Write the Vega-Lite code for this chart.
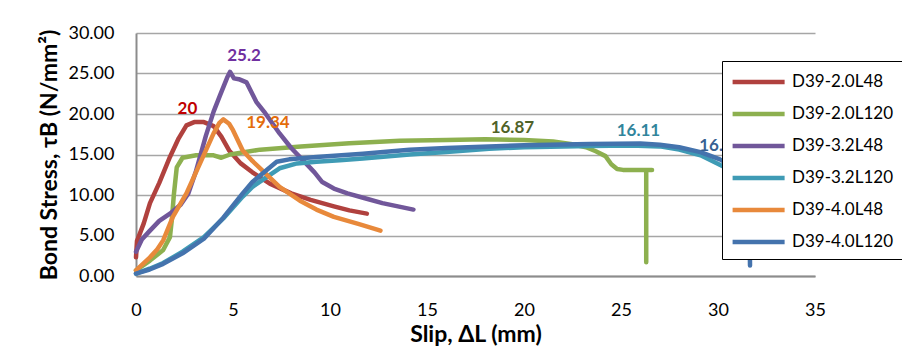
{
  "$schema": "https://vega.github.io/schema/vega-lite/v6.json",
  "width": 679,
  "height": 243,
  "autosize": "none",
  "padding": {"left": 136, "top": 33, "right": 87, "bottom": 73},
  "background": "white",
  "config": {"view": {"stroke": null}, "font": "Lato"},
  "datasets": {
    "curves": [
      {"s": "D39-2.0L48", "i": 1, "x": 0, "y": 2.3},
      {"s": "D39-2.0L48", "i": 2, "x": 0.05, "y": 4.3},
      {"s": "D39-2.0L48", "i": 3, "x": 0.4, "y": 6.5},
      {"s": "D39-2.0L48", "i": 4, "x": 0.72, "y": 9.0},
      {"s": "D39-2.0L48", "i": 5, "x": 1.2, "y": 11.5},
      {"s": "D39-2.0L48", "i": 6, "x": 1.75, "y": 14.7},
      {"s": "D39-2.0L48", "i": 7, "x": 2.2, "y": 17.0},
      {"s": "D39-2.0L48", "i": 8, "x": 2.6, "y": 18.6},
      {"s": "D39-2.0L48", "i": 9, "x": 3.0, "y": 19.0},
      {"s": "D39-2.0L48", "i": 10, "x": 3.5, "y": 19.0},
      {"s": "D39-2.0L48", "i": 11, "x": 4.0, "y": 18.5},
      {"s": "D39-2.0L48", "i": 12, "x": 4.4, "y": 17.2},
      {"s": "D39-2.0L48", "i": 13, "x": 4.8, "y": 15.5},
      {"s": "D39-2.0L48", "i": 14, "x": 5.4, "y": 13.9},
      {"s": "D39-2.0L48", "i": 15, "x": 6.0, "y": 12.8},
      {"s": "D39-2.0L48", "i": 16, "x": 6.9, "y": 11.4},
      {"s": "D39-2.0L48", "i": 17, "x": 8.0, "y": 10.2},
      {"s": "D39-2.0L48", "i": 18, "x": 9.0, "y": 9.4},
      {"s": "D39-2.0L48", "i": 19, "x": 10.2, "y": 8.6},
      {"s": "D39-2.0L48", "i": 20, "x": 11.0, "y": 8.1},
      {"s": "D39-2.0L48", "i": 21, "x": 11.9, "y": 7.7},

      {"s": "D39-2.0L120", "i": 1, "x": 0, "y": 0.7},
      {"s": "D39-2.0L120", "i": 2, "x": 0.72, "y": 1.9},
      {"s": "D39-2.0L120", "i": 3, "x": 1.4, "y": 3.2},
      {"s": "D39-2.0L120", "i": 4, "x": 1.75, "y": 4.8},
      {"s": "D39-2.0L120", "i": 5, "x": 1.85, "y": 7.0},
      {"s": "D39-2.0L120", "i": 6, "x": 1.95, "y": 10.0},
      {"s": "D39-2.0L120", "i": 7, "x": 2.1, "y": 13.4},
      {"s": "D39-2.0L120", "i": 8, "x": 2.4, "y": 14.6},
      {"s": "D39-2.0L120", "i": 9, "x": 3.1, "y": 14.9},
      {"s": "D39-2.0L120", "i": 10, "x": 4.0, "y": 14.9},
      {"s": "D39-2.0L120", "i": 11, "x": 4.4, "y": 14.6},
      {"s": "D39-2.0L120", "i": 12, "x": 4.85, "y": 15.0},
      {"s": "D39-2.0L120", "i": 13, "x": 6.4, "y": 15.6},
      {"s": "D39-2.0L120", "i": 14, "x": 8.5, "y": 16.0},
      {"s": "D39-2.0L120", "i": 15, "x": 11.0, "y": 16.4},
      {"s": "D39-2.0L120", "i": 16, "x": 13.6, "y": 16.7},
      {"s": "D39-2.0L120", "i": 17, "x": 16.0, "y": 16.8},
      {"s": "D39-2.0L120", "i": 18, "x": 18.0, "y": 16.87},
      {"s": "D39-2.0L120", "i": 19, "x": 20.0, "y": 16.8},
      {"s": "D39-2.0L120", "i": 20, "x": 21.5, "y": 16.6},
      {"s": "D39-2.0L120", "i": 21, "x": 22.4, "y": 16.3},
      {"s": "D39-2.0L120", "i": 22, "x": 23.2, "y": 15.9},
      {"s": "D39-2.0L120", "i": 23, "x": 23.7, "y": 15.4},
      {"s": "D39-2.0L120", "i": 24, "x": 24.2, "y": 14.8},
      {"s": "D39-2.0L120", "i": 25, "x": 24.5, "y": 13.8},
      {"s": "D39-2.0L120", "i": 26, "x": 24.8, "y": 13.2},
      {"s": "D39-2.0L120", "i": 27, "x": 25.1, "y": 13.1},
      {"s": "D39-2.0L120", "i": 28, "x": 26.6, "y": 13.1},
      {"s": "D39-2.0L120", "i": 29, "x": 26.3, "y": 13.1},
      {"s": "D39-2.0L120", "i": 30, "x": 26.3, "y": 1.7},

      {"s": "D39-3.2L48", "i": 1, "x": 0, "y": 3.0},
      {"s": "D39-3.2L48", "i": 2, "x": 0.3, "y": 4.5},
      {"s": "D39-3.2L48", "i": 3, "x": 0.72, "y": 5.6},
      {"s": "D39-3.2L48", "i": 4, "x": 1.2, "y": 6.8},
      {"s": "D39-3.2L48", "i": 5, "x": 1.75, "y": 7.7},
      {"s": "D39-3.2L48", "i": 6, "x": 2.3, "y": 8.8},
      {"s": "D39-3.2L48", "i": 7, "x": 2.7, "y": 10.2},
      {"s": "D39-3.2L48", "i": 8, "x": 3.1, "y": 13.0},
      {"s": "D39-3.2L48", "i": 9, "x": 3.6, "y": 17.3},
      {"s": "D39-3.2L48", "i": 10, "x": 4.0, "y": 20.3},
      {"s": "D39-3.2L48", "i": 11, "x": 4.33, "y": 22.3},
      {"s": "D39-3.2L48", "i": 12, "x": 4.7, "y": 24.5},
      {"s": "D39-3.2L48", "i": 13, "x": 4.85, "y": 25.2},
      {"s": "D39-3.2L48", "i": 14, "x": 5.05, "y": 24.4},
      {"s": "D39-3.2L48", "i": 15, "x": 5.3, "y": 24.3},
      {"s": "D39-3.2L48", "i": 16, "x": 5.7, "y": 23.9},
      {"s": "D39-3.2L48", "i": 17, "x": 6.2, "y": 21.5},
      {"s": "D39-3.2L48", "i": 18, "x": 6.6, "y": 20.3},
      {"s": "D39-3.2L48", "i": 19, "x": 7.4, "y": 17.6},
      {"s": "D39-3.2L48", "i": 20, "x": 8.0, "y": 15.8},
      {"s": "D39-3.2L48", "i": 21, "x": 8.6, "y": 14.3},
      {"s": "D39-3.2L48", "i": 22, "x": 9.2, "y": 12.8},
      {"s": "D39-3.2L48", "i": 23, "x": 9.6, "y": 11.6},
      {"s": "D39-3.2L48", "i": 24, "x": 10.2, "y": 10.8},
      {"s": "D39-3.2L48", "i": 25, "x": 10.9, "y": 10.2},
      {"s": "D39-3.2L48", "i": 26, "x": 11.8, "y": 9.6},
      {"s": "D39-3.2L48", "i": 27, "x": 12.7, "y": 9.0},
      {"s": "D39-3.2L48", "i": 28, "x": 13.5, "y": 8.6},
      {"s": "D39-3.2L48", "i": 29, "x": 14.3, "y": 8.2},

      {"s": "D39-3.2L120", "i": 1, "x": 0, "y": 0.3},
      {"s": "D39-3.2L120", "i": 2, "x": 0.7, "y": 0.9},
      {"s": "D39-3.2L120", "i": 3, "x": 1.4, "y": 1.6},
      {"s": "D39-3.2L120", "i": 4, "x": 2.4, "y": 3.0},
      {"s": "D39-3.2L120", "i": 5, "x": 3.5, "y": 4.8},
      {"s": "D39-3.2L120", "i": 6, "x": 4.5, "y": 7.1},
      {"s": "D39-3.2L120", "i": 7, "x": 5.5, "y": 9.8},
      {"s": "D39-3.2L120", "i": 8, "x": 6.0, "y": 11.0},
      {"s": "D39-3.2L120", "i": 9, "x": 6.6, "y": 12.0},
      {"s": "D39-3.2L120", "i": 10, "x": 7.4, "y": 13.3},
      {"s": "D39-3.2L120", "i": 11, "x": 8.3, "y": 13.9},
      {"s": "D39-3.2L120", "i": 12, "x": 9.3, "y": 14.1},
      {"s": "D39-3.2L120", "i": 13, "x": 10.5, "y": 14.3},
      {"s": "D39-3.2L120", "i": 14, "x": 11.7, "y": 14.5},
      {"s": "D39-3.2L120", "i": 15, "x": 14.1, "y": 15.0},
      {"s": "D39-3.2L120", "i": 16, "x": 16.0, "y": 15.3},
      {"s": "D39-3.2L120", "i": 17, "x": 18.2, "y": 15.7},
      {"s": "D39-3.2L120", "i": 18, "x": 20.0, "y": 15.9},
      {"s": "D39-3.2L120", "i": 19, "x": 23.4, "y": 16.05},
      {"s": "D39-3.2L120", "i": 20, "x": 25.5, "y": 16.11},
      {"s": "D39-3.2L120", "i": 21, "x": 27.0, "y": 16.0},
      {"s": "D39-3.2L120", "i": 22, "x": 28.0, "y": 15.6},
      {"s": "D39-3.2L120", "i": 23, "x": 29.1, "y": 14.9},
      {"s": "D39-3.2L120", "i": 24, "x": 30.3, "y": 13.5},
      {"s": "D39-3.2L120", "i": 25, "x": 31.0, "y": 12.3},

      {"s": "D39-4.0L48", "i": 1, "x": 0, "y": 0.7},
      {"s": "D39-4.0L48", "i": 2, "x": 0.72, "y": 2.3},
      {"s": "D39-4.0L48", "i": 3, "x": 1.1, "y": 3.3},
      {"s": "D39-4.0L48", "i": 4, "x": 1.4, "y": 4.4},
      {"s": "D39-4.0L48", "i": 5, "x": 1.9, "y": 7.3},
      {"s": "D39-4.0L48", "i": 6, "x": 2.6, "y": 10.2},
      {"s": "D39-4.0L48", "i": 7, "x": 3.3, "y": 13.9},
      {"s": "D39-4.0L48", "i": 8, "x": 4.0, "y": 17.6},
      {"s": "D39-4.0L48", "i": 9, "x": 4.3, "y": 18.9},
      {"s": "D39-4.0L48", "i": 10, "x": 4.5, "y": 19.34},
      {"s": "D39-4.0L48", "i": 11, "x": 4.8, "y": 18.8},
      {"s": "D39-4.0L48", "i": 12, "x": 5.0, "y": 18.0},
      {"s": "D39-4.0L48", "i": 13, "x": 5.5, "y": 15.5},
      {"s": "D39-4.0L48", "i": 14, "x": 6.0, "y": 14.2},
      {"s": "D39-4.0L48", "i": 15, "x": 6.4, "y": 13.3},
      {"s": "D39-4.0L48", "i": 16, "x": 7.4, "y": 11.0},
      {"s": "D39-4.0L48", "i": 17, "x": 8.45, "y": 9.3},
      {"s": "D39-4.0L48", "i": 18, "x": 9.3, "y": 8.2},
      {"s": "D39-4.0L48", "i": 19, "x": 10.2, "y": 7.3},
      {"s": "D39-4.0L48", "i": 20, "x": 11.5, "y": 6.4},
      {"s": "D39-4.0L48", "i": 21, "x": 12.6, "y": 5.6},

      {"s": "D39-4.0L120", "i": 1, "x": 0, "y": 0.3},
      {"s": "D39-4.0L120", "i": 2, "x": 0.7, "y": 0.8},
      {"s": "D39-4.0L120", "i": 3, "x": 1.4, "y": 1.5},
      {"s": "D39-4.0L120", "i": 4, "x": 2.4, "y": 2.8},
      {"s": "D39-4.0L120", "i": 5, "x": 3.5, "y": 4.6},
      {"s": "D39-4.0L120", "i": 6, "x": 4.5, "y": 7.2},
      {"s": "D39-4.0L120", "i": 7, "x": 5.5, "y": 10.2},
      {"s": "D39-4.0L120", "i": 8, "x": 6.0, "y": 11.6},
      {"s": "D39-4.0L120", "i": 9, "x": 6.6, "y": 12.8},
      {"s": "D39-4.0L120", "i": 10, "x": 7.25, "y": 14.1},
      {"s": "D39-4.0L120", "i": 11, "x": 7.9, "y": 14.4},
      {"s": "D39-4.0L120", "i": 12, "x": 9.3, "y": 14.7},
      {"s": "D39-4.0L120", "i": 13, "x": 11.7, "y": 15.1},
      {"s": "D39-4.0L120", "i": 14, "x": 14.1, "y": 15.6},
      {"s": "D39-4.0L120", "i": 15, "x": 16.0, "y": 15.8},
      {"s": "D39-4.0L120", "i": 16, "x": 18.2, "y": 16.0},
      {"s": "D39-4.0L120", "i": 17, "x": 20.0, "y": 16.15},
      {"s": "D39-4.0L120", "i": 18, "x": 23.4, "y": 16.3},
      {"s": "D39-4.0L120", "i": 19, "x": 26.0, "y": 16.35},
      {"s": "D39-4.0L120", "i": 20, "x": 27.0, "y": 16.2},
      {"s": "D39-4.0L120", "i": 21, "x": 28.0, "y": 15.9},
      {"s": "D39-4.0L120", "i": 22, "x": 29.1, "y": 15.3},
      {"s": "D39-4.0L120", "i": 23, "x": 30.1, "y": 14.4},
      {"s": "D39-4.0L120", "i": 24, "x": 31.0, "y": 13.2},
      {"s": "D39-4.0L120", "i": 25, "x": 31.6, "y": 12.0},
      {"s": "D39-4.0L120", "i": 26, "x": 31.65, "y": 1.3}
    ],
    "labels": [
      {"t": "20", "x": 2.65, "y": 20.6, "c": "#c00000"},
      {"t": "25.2", "x": 5.57, "y": 27.2, "c": "#7030a0"},
      {"t": "19.34", "x": 6.8, "y": 18.85, "c": "#e46c0a"},
      {"t": "16.87", "x": 19.4, "y": 18.3, "c": "#4f6228"},
      {"t": "16.11", "x": 25.9, "y": 17.9, "c": "#31859c"},
      {"t": "16.32", "x": 30.15, "y": 16.0, "c": "#376092"}
    ]
  },
  "layer": [
    {
      "data": {"name": "curves"},
      "mark": {"type": "line", "strokeWidth": 4.5, "strokeCap": "round", "strokeJoin": "round"},
      "encoding": {
        "x": {
          "field": "x", "type": "quantitative",
          "scale": {"domain": [0, 35], "nice": false},
          "axis": {
            "values": [0, 5, 10, 15, 20, 25, 30, 35],
            "grid": false, "ticks": false,
            "domainColor": "#8c8c8c", "domainWidth": 2,
            "labelFontSize": 18, "labelColor": "#000", "labelPadding": 25,
            "labelFlush": false,
            "title": "Slip, ΔL (mm)", "titleFontSize": 23, "titleFontWeight": "bold",
            "titleColor": "#000", "titlePadding": 4
          }
        },
        "y": {
          "field": "y", "type": "quantitative",
          "scale": {"domain": [0, 30], "nice": false},
          "axis": {
            "values": [0, 5, 10, 15, 20, 25, 30],
            "format": ".2f",
            "grid": true, "gridColor": "#a6a6a6", "gridWidth": 1.5,
            "ticks": false,
            "domainColor": "#8c8c8c", "domainWidth": 2,
            "labelFontSize": 18, "labelColor": "#000", "labelPadding": 22,
            "labelFlush": false,
            "title": "Bond Stress, τB (N/mm²)", "titleFontSize": 23, "titleFontWeight": "bold",
            "titleColor": "#000", "titlePadding": 6
          }
        },
        "color": {
          "field": "s", "type": "nominal",
          "scale": {
            "domain": ["D39-2.0L48", "D39-2.0L120", "D39-3.2L48", "D39-3.2L120", "D39-4.0L48", "D39-4.0L120"],
            "range": ["#b0413e", "#8db04f", "#71579a", "#3f9bb5", "#e8893b", "#4473ad"]
          },
          "legend": {
            "orient": "none", "legendX": 586, "legendY": 28,
            "title": null,
            "strokeColor": "#000", "fillColor": "#fff",
            "padding": 8,
            "symbolType": "M-1,0H4", "symbolSize": 433, "symbolStrokeWidth": 4.5,
            "labelFontSize": 17, "labelColor": "#000", "labelOffset": 36, "labelLimit": 200,
            "rowPadding": 10
          }
        },
        "order": {"field": "i", "type": "quantitative"}
      }
    },
    {
      "data": {"name": "labels"},
      "mark": {"type": "text", "fontSize": 17, "fontWeight": "bold", "baseline": "middle", "align": "center"},
      "encoding": {
        "x": {"field": "x", "type": "quantitative"},
        "y": {"field": "y", "type": "quantitative"},
        "text": {"field": "t"},
        "color": {"field": "c", "type": "nominal", "scale": null}
      }
    }
  ]
}
